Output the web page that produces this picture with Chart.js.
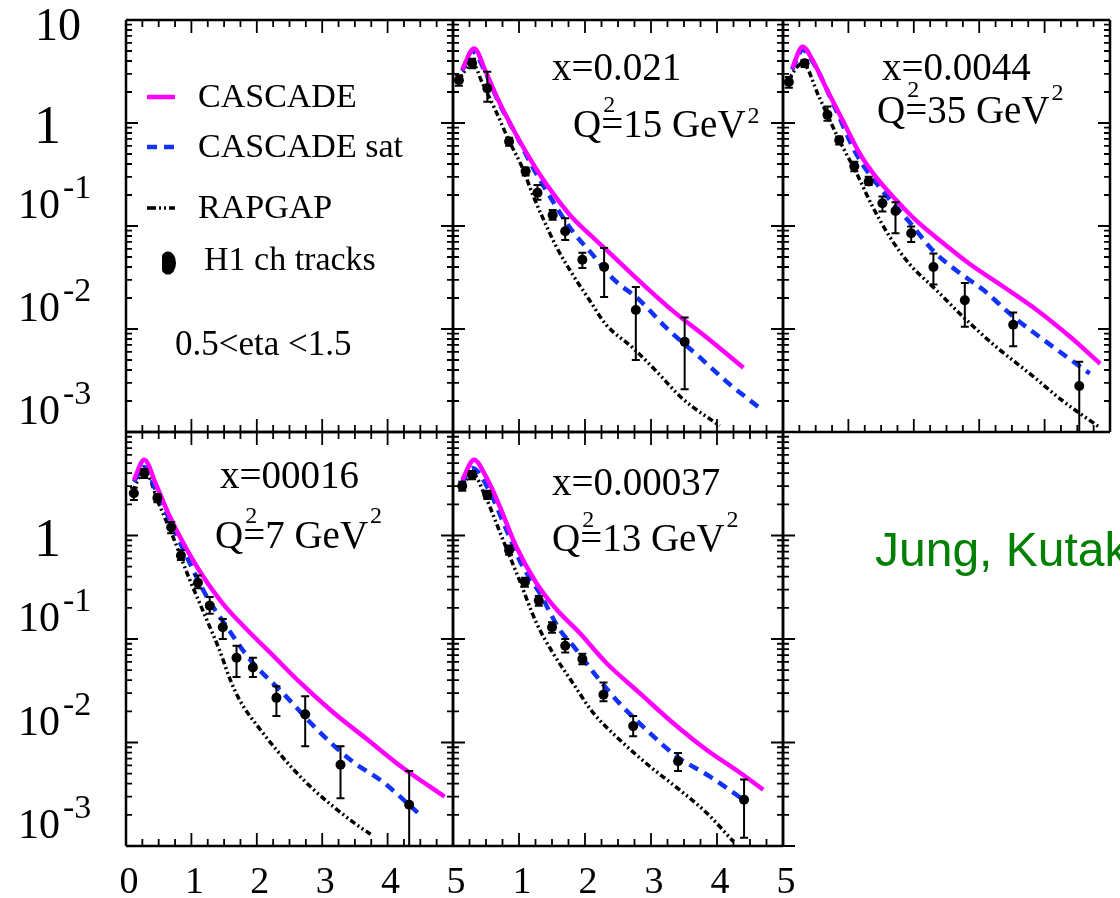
<!DOCTYPE html>
<html lang="en">
<head>
    <meta charset="UTF-8">
    <title>Charged track spectra - CASCADE / RAPGAP vs H1</title>
    <script src="https://cdn.jsdelivr.net/npm/chart.js"></script>
    <style>
        body {
            margin: 0;
            background: #fff;
        }

        #page {
            position: relative;
            width: 1120px;
            height: 898px;
            overflow: hidden;
        }

        #page canvas {
            position: absolute;
            left: 0;
            top: 0;
        }
    </style>
</head>
<body>
    <div id="page">
        <canvas id="legendPanel" width="1120" height="898"></canvas>
        <canvas id="panel021" width="1120" height="898"></canvas>
        <canvas id="panel0044" width="1120" height="898"></canvas>
        <canvas id="panel00016" width="1120" height="898"></canvas>
        <canvas id="panel00037" width="1120" height="898"></canvas>
        <canvas id="emptyPanel" width="1120" height="898"></canvas>
    </div>

    <script>
        const W = 1120, H = 898;

        // axis labels (same for every panel)
        const yTickValues = [10, 1, 0.1, 0.01, 0.001];
        const yTickBase = ['10', '1', '10', '10', '10'];
        const yTickExp = ['', '', '-1', '-2', '-3'];
        const xTickValues = [0, 1, 2, 3, 4, 5];

        // x=0.021, Q2=15
        const aCascX = [0.14, 0.32, 0.50, 0.70, 0.90, 1.10, 1.31, 1.56, 1.81, 2.07, 2.32, 2.83, 3.33, 3.84, 4.40];
        const aCascY = [3.3, 5.3, 3.1, 1.6, 0.9, 0.53, 0.32, 0.19, 0.12, 0.083, 0.059, 0.029, 0.015, 0.0083, 0.0042];
        const aSatX = [0.14, 0.29, 0.50, 0.70, 0.95, 1.21, 1.51, 1.81, 2.07, 2.42, 2.83, 3.23, 3.74, 4.14, 4.65];
        const aSatY = [3.2, 5.0, 3.0, 1.55, 0.78, 0.37, 0.175, 0.089, 0.057, 0.031, 0.019, 0.0103, 0.0053, 0.0031, 0.0017];
        const aRapX = [0.09, 0.29, 0.45, 0.65, 0.85, 1.05, 1.21, 1.36, 1.56, 1.81, 2.07, 2.32, 2.72, 3.08, 3.48, 4.04];
        const aRapY = [2.6, 3.85, 2.4, 1.3, 0.67, 0.37, 0.20, 0.12, 0.064, 0.034, 0.019, 0.011, 0.0066, 0.0039, 0.0021, 0.00115];
        const aDataX = [0.09, 0.29, 0.52, 0.85, 1.10, 1.28, 1.51, 1.70, 1.96, 2.29, 2.77, 3.51];
        const aDataY = [2.6, 3.8, 2.17, 0.66, 0.34, 0.21, 0.128, 0.089, 0.047, 0.040, 0.0153, 0.0075];
        const aDataLo = [2.3, 3.4, 1.61, 0.60, 0.31, 0.18, 0.115, 0.073, 0.039, 0.0205, 0.0050, 0.0026];
        const aDataHi = [2.9, 4.2, 3.15, 0.72, 0.37, 0.25, 0.143, 0.119, 0.055, 0.061, 0.0256, 0.0129];

        // x=0.0044, Q2=35
        const bCascX = [0.14, 0.30, 0.45, 0.65, 0.91, 1.17, 1.42, 1.73, 2.03, 2.39, 2.85, 3.36, 3.88, 4.39, 4.85];
        const bCascY = [3.4, 5.5, 4.1, 2.25, 1.07, 0.51, 0.30, 0.179, 0.114, 0.073, 0.043, 0.026, 0.0153, 0.0084, 0.0046];
        const bSatX = [0.14, 0.30, 0.50, 0.81, 1.12, 1.47, 1.93, 2.29, 2.65, 3.06, 3.52, 4.13, 4.69];
        const bSatY = [3.3, 5.1, 3.5, 1.34, 0.50, 0.24, 0.110, 0.058, 0.037, 0.024, 0.0132, 0.0067, 0.0037];
        const bRapX = [0.04, 0.30, 0.55, 0.86, 1.12, 1.37, 1.63, 1.93, 2.34, 2.75, 3.26, 3.77, 4.28, 4.85];
        const bRapY = [2.4, 3.8, 1.8, 0.68, 0.33, 0.154, 0.079, 0.043, 0.024, 0.0132, 0.0067, 0.0037, 0.0020, 0.0011];
        const bDataX = [0.09, 0.33, 0.68, 0.86, 1.09, 1.31, 1.52, 1.72, 1.96, 2.30, 2.78, 3.52, 4.53];
        const bDataY = [2.5, 3.8, 1.2, 0.68, 0.38, 0.27, 0.166, 0.14, 0.085, 0.040, 0.019, 0.011, 0.0028];
        const bDataLo = [2.2, 3.5, 1.05, 0.62, 0.34, 0.25, 0.138, 0.085, 0.070, 0.027, 0.0105, 0.0068, 0.0010];
        const bDataHi = [2.8, 4.1, 1.45, 0.74, 0.42, 0.30, 0.193, 0.17, 0.099, 0.054, 0.028, 0.0145, 0.0048];

        // x=00016, Q2=7
        const cCascX = [0.12, 0.28, 0.46, 0.66, 0.92, 1.17, 1.48, 1.84, 2.25, 2.66, 3.17, 3.69, 4.20, 4.87];
        const cCascY = [3.44, 5.4, 3.1, 1.57, 0.75, 0.41, 0.22, 0.125, 0.069, 0.038, 0.0195, 0.0107, 0.0059, 0.0030];
        const cSatX = [0.12, 0.28, 0.46, 0.61, 0.92, 1.23, 1.53, 1.89, 2.40, 2.92, 3.43, 3.94, 4.46];
        const cSatY = [3.3, 4.6, 2.7, 1.7, 0.64, 0.26, 0.134, 0.064, 0.030, 0.0134, 0.0068, 0.0041, 0.0021];
        const cRapX = [0.10, 0.28, 0.51, 0.71, 0.97, 1.23, 1.43, 1.59, 1.74, 2.05, 2.30, 2.56, 2.87, 3.17, 3.53, 3.74];
        const cRapY = [2.66, 4.2, 1.97, 1.0, 0.38, 0.156, 0.078, 0.041, 0.0255, 0.0134, 0.0085, 0.0055, 0.0035, 0.0024, 0.0016, 0.0013];
        const cDataX = [0.12, 0.28, 0.48, 0.69, 0.84, 1.10, 1.28, 1.48, 1.69, 1.94, 2.30, 2.74, 3.28, 4.33];
        const cDataY = [2.56, 4.0, 2.3, 1.2, 0.64, 0.35, 0.21, 0.13, 0.066, 0.053, 0.027, 0.0187, 0.0061, 0.0025];
        const cDataLo = [2.2, 3.6, 2.1, 1.05, 0.58, 0.31, 0.175, 0.10, 0.043, 0.043, 0.018, 0.0092, 0.0029, 0.0009];
        const cDataHi = [2.9, 4.4, 2.5, 1.35, 0.72, 0.41, 0.254, 0.156, 0.086, 0.066, 0.035, 0.028, 0.0092, 0.0053];

        // x=0.00037, Q2=13
        const dCascX = [0.14, 0.32, 0.50, 0.70, 0.95, 1.26, 1.56, 1.91, 2.32, 2.83, 3.33, 3.84, 4.35, 4.70];
        const dCascY = [3.44, 5.4, 3.7, 1.97, 0.8, 0.35, 0.196, 0.116, 0.059, 0.030, 0.0155, 0.0085, 0.0051, 0.0035];
        const dSatX = [0.14, 0.29, 0.55, 0.80, 1.05, 1.31, 1.61, 1.86, 2.17, 2.52, 2.98, 3.38, 3.89, 4.40];
        const dSatY = [3.3, 4.5, 2.7, 1.17, 0.51, 0.28, 0.125, 0.080, 0.044, 0.024, 0.0124, 0.0074, 0.0047, 0.0028];
        const dRapX = [0.14, 0.29, 0.50, 0.75, 1.00, 1.26, 1.51, 1.81, 2.12, 2.52, 2.98, 3.43, 3.84, 4.25];
        const dRapY = [2.86, 4.0, 2.3, 0.93, 0.38, 0.145, 0.074, 0.038, 0.0195, 0.0107, 0.0059, 0.0035, 0.0021, 0.0011];
        const dDataX = [0.14, 0.29, 0.52, 0.85, 1.09, 1.30, 1.50, 1.70, 1.96, 2.28, 2.73, 3.41, 4.41];
        const dDataY = [3.0, 3.85, 2.46, 0.72, 0.355, 0.235, 0.13, 0.086, 0.064, 0.029, 0.0144, 0.0066, 0.0028];
        const dDataLo = [2.7, 3.5, 2.25, 0.65, 0.32, 0.21, 0.115, 0.074, 0.057, 0.025, 0.0115, 0.0053, 0.0012];
        const dDataHi = [3.3, 4.2, 2.7, 0.8, 0.39, 0.26, 0.145, 0.10, 0.072, 0.038, 0.018, 0.0079, 0.0044];

        const CASC = '#ff00ff';
        const SAT = '#1232f5';
        const RAP = '#000000';
        const SAT_DASH = [10, 7];
        const RAP_DASH = [6, 3, 2, 3, 2, 3];
        const SERIF = '"Liberation Serif", "Times New Roman", serif';

        // text with raised pieces, e.g. Q^2
        function drawRich(ctx, x, y, parts, size, supSize) {
            parts.forEach(p => {
                if (typeof p === 'string') {
                    ctx.font = size + 'px ' + SERIF;
                    ctx.fillText(p, x, y);
                    x += ctx.measureText(p).width;
                } else {
                    ctx.font = supSize + 'px ' + SERIF;
                    ctx.fillText(p.sup, x + (p.dx || 0), y - p.rise);
                    if (p.adv) x += ctx.measureText(p.sup).width + (p.dx || 0);
                }
            });
        }

        const errorBars = {
            id: 'errorBars',
            afterDatasetsDraw(chart) {
                const { ctx, chartArea: a } = chart;
                const xs = chart.scales.x, ys = chart.scales.y;
                ctx.save();
                ctx.beginPath();
                ctx.rect(a.left, a.top, a.right - a.left, a.bottom - a.top);
                ctx.clip();
                ctx.strokeStyle = '#000';
                ctx.lineWidth = 2;
                chart.data.datasets.forEach(ds => {
                    if (!ds.errLo) return;
                    ds.data.forEach((p, i) => {
                        const px = xs.getPixelForValue(p.x);
                        const y1 = ys.getPixelForValue(ds.errLo[i]);
                        const y2 = ys.getPixelForValue(ds.errHi[i]);
                        ctx.beginPath();
                        ctx.moveTo(px, y1); ctx.lineTo(px, y2);
                        ctx.moveTo(px - 4, y1); ctx.lineTo(px + 4, y1);
                        ctx.moveTo(px - 4, y2); ctx.lineTo(px + 4, y2);
                        ctx.stroke();
                    });
                });
                ctx.restore();
            }
        };

        const frame = {
            id: 'frame',
            afterDraw(chart, args, o) {
                const { ctx, chartArea: a } = chart;
                const xs = chart.scales.x, ys = chart.scales.y;
                const sides = o.sides || 'ltrb';
                ctx.save();
                ctx.strokeStyle = '#000';
                ctx.fillStyle = '#000';

                // box
                ctx.lineWidth = 2.5;
                ctx.beginPath();
                if (sides.includes('l')) { ctx.moveTo(a.left, a.top); ctx.lineTo(a.left, a.bottom); }
                if (sides.includes('r')) { ctx.moveTo(a.right, a.top); ctx.lineTo(a.right, a.bottom); }
                if (sides.includes('t')) { ctx.moveTo(a.left, a.top); ctx.lineTo(a.right, a.top); }
                if (sides.includes('b')) { ctx.moveTo(a.left, a.bottom); ctx.lineTo(a.right, a.bottom); }
                ctx.stroke();

                // inward ticks
                ctx.lineWidth = 1.8;
                ctx.beginPath();
                for (let e = -3; e <= 1; e++) {
                    for (let m = 1; m <= 9; m++) {
                        if (e === 1 && m > 1) break;
                        const py = ys.getPixelForValue(m * Math.pow(10, e));
                        const len = m === 1 ? 12 : 6;
                        if (sides.includes('l')) { ctx.moveTo(a.left, py); ctx.lineTo(a.left + len, py); }
                        if (sides.includes('r')) { ctx.moveTo(a.right, py); ctx.lineTo(a.right - len, py); }
                    }
                }
                for (let i = 0; i <= 20; i++) {
                    const px = xs.getPixelForValue(i / 4);
                    const len = i % 4 === 0 ? 13 : 7;
                    if (sides.includes('t')) { ctx.moveTo(px, a.top); ctx.lineTo(px, a.top + len); }
                    if (sides.includes('b')) { ctx.moveTo(px, a.bottom); ctx.lineTo(px, a.bottom - len); }
                }
                ctx.stroke();

                ctx.textBaseline = 'alphabetic';
                ctx.textAlign = 'left';

                // y labels
                if (o.yLabels) {
                    yTickValues.forEach((v, i) => {
                        if (o.skipTop && i === 0) return;
                        const py = ys.getPixelForValue(v);
                        if (yTickExp[i]) {
                            ctx.font = '42px ' + SERIF;
                            ctx.fillText(yTickBase[i], 18, py - 8);
                            const w = ctx.measureText(yTickBase[i]).width;
                            ctx.font = '34px ' + SERIF;
                            ctx.fillText(yTickExp[i], 18 + w + 3, py - 28);
                        } else if (yTickBase[i] === '1') {
                            ctx.font = '54px ' + SERIF;
                            ctx.fillText(yTickBase[i], 34, py + 20);
                        } else {
                            ctx.font = '46px ' + SERIF;
                            ctx.fillText(yTickBase[i], 35, py + 20);
                        }
                    });
                }

                // x labels
                if (o.xLabels) {
                    ctx.font = '38px ' + SERIF;
                    ctx.textAlign = 'center';
                    xTickValues.forEach(v => {
                        if (o.skipZero && v === 0) return;
                        ctx.fillText(String(v), xs.getPixelForValue(v) + 3, a.bottom + 47);
                    });
                    ctx.textAlign = 'left';
                }

                // panel notes
                (o.notes || []).forEach(n => {
                    ctx.fillStyle = n.color || '#000';
                    if (n.font) {
                        ctx.font = n.font;
                        ctx.fillText(n.parts[0], a.left + n.dx, a.top + n.dy);
                    } else {
                        drawRich(ctx, a.left + n.dx, a.top + n.dy, n.parts, 39, 24);
                    }
                });
                ctx.fillStyle = '#000';

                // legend box
                if (o.legend) {
                    const lx = a.left + 21, lw = 28;
                    const rows = [
                        { dy: 77, color: CASC, width: 4.5, dash: [] },
                        { dy: 127, color: SAT, width: 4.5, dash: SAT_DASH },
                        { dy: 188, color: RAP, width: 3.5, dash: [9, 3, 2, 3, 2, 3] }
                    ];
                    rows.forEach(r => {
                        ctx.strokeStyle = r.color;
                        ctx.lineWidth = r.width;
                        ctx.setLineDash(r.dash);
                        ctx.beginPath();
                        ctx.moveTo(lx, a.top + r.dy);
                        ctx.lineTo(lx + lw, a.top + r.dy);
                        ctx.stroke();
                    });
                    ctx.setLineDash([]);

                    // H1 marker, flat on the left
                    ctx.save();
                    ctx.beginPath();
                    ctx.rect(a.left + 36, a.top + 228, 30, 30);
                    ctx.clip();
                    ctx.beginPath();
                    ctx.ellipse(a.left + 42, a.top + 243, 8, 11.5, 0, 0, Math.PI * 2);
                    ctx.fill();
                    ctx.restore();

                    ctx.font = '34px ' + SERIF;
                    ctx.fillText('CASCADE', a.left + 72, a.top + 87);
                    ctx.fillText('CASCADE sat', a.left + 72, a.top + 137);
                    ctx.fillText('RAPGAP', a.left + 72, a.top + 198);
                    ctx.fillText('H1 ch tracks', a.left + 78, a.top + 250);
                    ctx.font = '35px ' + SERIF;
                    ctx.fillText('0.5<eta <1.5', a.left + 49, a.top + 335);
                }
                ctx.restore();
            }
        };

        function curve(label, xs, ys, color, width, dash) {
            return {
                label: label,
                data: xs.map((x, i) => ({ x: x, y: ys[i] })),
                borderColor: color,
                borderWidth: width,
                borderDash: dash,
                pointRadius: 0,
                fill: false,
                cubicInterpolationMode: 'monotone'
            };
        }

        function points(xs, ys, lo, hi) {
            return {
                label: 'H1 ch tracks',
                data: xs.map((x, i) => ({ x: x, y: ys[i] })),
                showLine: false,
                pointRadius: 5,
                pointBackgroundColor: '#000',
                pointBorderColor: '#000',
                pointBorderWidth: 0,
                errLo: lo,
                errHi: hi
            };
        }

        function panelSets(cx, cy, sx, sy, rx, ry, dx, dy, lo, hi) {
            return [
                points(dx, dy, lo, hi),
                curve('CASCADE', cx, cy, CASC, 4.5, []),
                curve('CASCADE sat', sx, sy, SAT, 4.5, SAT_DASH),
                curve('RAPGAP', rx, ry, RAP, 3.5, RAP_DASH)
            ];
        }

        function makePanel(id, box, datasets, frameOpts) {
            return new Chart(document.getElementById(id), {
                type: 'line',
                data: { datasets: datasets },
                options: {
                    responsive: false,
                    animation: false,
                    events: [],
                    layout: { padding: { left: box[0], top: box[1], right: W - box[2], bottom: H - box[3] } },
                    scales: {
                        x: { type: 'linear', min: 0, max: 5, display: false },
                        y: { type: 'logarithmic', min: 0.001, max: 10, display: false }
                    },
                    plugins: {
                        legend: { display: false },
                        tooltip: { enabled: false },
                        frame: frameOpts
                    }
                },
                plugins: [errorBars, frame]
            });
        }

        const Q = (rise) => ({ sup: '2', rise: rise, dx: 2, adv: false });
        const E = (rise) => ({ sup: '2', rise: rise, dx: 2, adv: true });

        makePanel('legendPanel', [126, 20, 453, 432], [], { yLabels: true, legend: true });

        makePanel('panel021', [453, 20, 783, 432],
            panelSets(aCascX, aCascY, aSatX, aSatY, aRapX, aRapY, aDataX, aDataY, aDataLo, aDataHi),
            { notes: [
                { dx: 99, dy: 60, parts: ['x=0.021'] },
                { dx: 120, dy: 117, parts: ['Q', Q(25), '=15 GeV', E(14)] }
            ] });

        makePanel('panel0044', [783, 20, 1110, 432],
            panelSets(bCascX, bCascY, bSatX, bSatY, bRapX, bRapY, bDataX, bDataY, bDataLo, bDataHi),
            { notes: [
                { dx: 99, dy: 60, parts: ['x=0.0044'] },
                { dx: 94, dy: 103, parts: ['Q', Q(26), '=35 GeV', E(23)] }
            ] });

        makePanel('panel00016', [126, 432, 453, 846],
            panelSets(cCascX, cCascY, cSatX, cSatY, cRapX, cRapY, cDataX, cDataY, cDataLo, cDataHi),
            { yLabels: true, skipTop: true, xLabels: true, notes: [
                { dx: 94, dy: 56, parts: ['x=00016'] },
                { dx: 89, dy: 116, parts: ['Q', Q(25), '=7 GeV', E(25)] }
            ] });

        makePanel('panel00037', [453, 432, 783, 846],
            panelSets(dCascX, dCascY, dSatX, dSatY, dRapX, dRapY, dDataX, dDataY, dDataLo, dDataHi),
            { xLabels: true, skipZero: true, notes: [
                { dx: 99, dy: 63, parts: ['x=0.00037'] },
                { dx: 99, dy: 119, parts: ['Q', Q(24), '=13 GeV', E(24)] }
            ] });

        makePanel('emptyPanel', [783, 432, 1110, 846], [], {
            sides: 'l',
            notes: [
                { dx: 92, dy: 134, parts: ['Jung, Kutak'], font: '48px "Liberation Sans", Arial, sans-serif', color: '#008000' }
            ]
        });
    </script>
</body>
</html>
